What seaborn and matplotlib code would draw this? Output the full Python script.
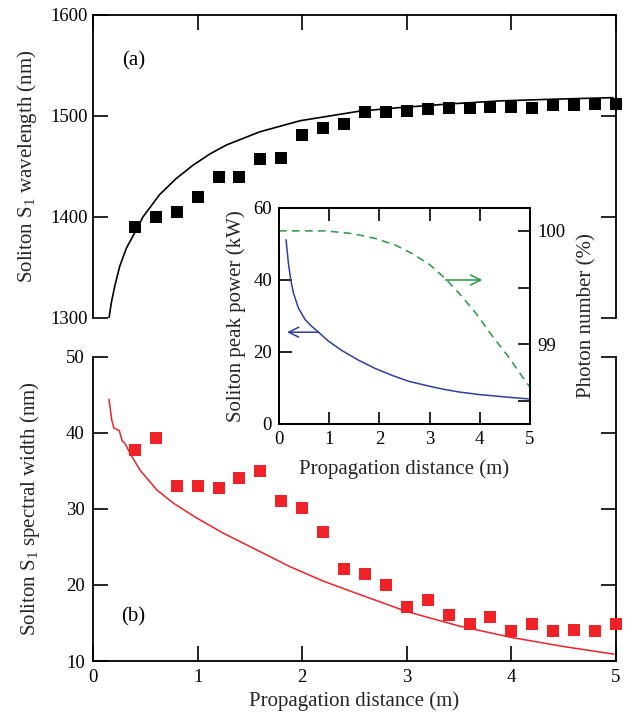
import numpy as np
import pandas as pd
import matplotlib
matplotlib.use("Agg")
import matplotlib.pyplot as plt
import seaborn as sns

# ---- measured points (soliton S1) ----
dist_meas = [0.4, 0.6, 0.8, 1.0, 1.2, 1.4, 1.6, 1.8, 2.0, 2.2, 2.4, 2.6,
             2.8, 3.0, 3.2, 3.4, 3.6, 3.8, 4.0, 4.2, 4.4, 4.6, 4.8, 5.0]
wavelength_meas = [1390, 1400, 1405, 1420, 1439, 1439, 1457, 1458, 1481, 1488,
                   1492, 1504, 1504, 1505, 1506.3, 1507.3, 1507.3, 1508.3,
                   1508.3, 1508, 1510.6, 1510.6, 1511.6, 1511.3]
width_meas = [37.7, 39.3, 33.0, 33.0, 32.7, 34.1, 35.0, 31.0, 30.1, 26.9,
              22.1, 21.5, 20.0, 17.1, 18.0, 16.0, 14.9, 15.8, 14.0, 14.9,
              14.0, 14.1, 14.0, 14.8]

# ---- simulated curves ----
dist_wl_sim = [0.153, 0.175, 0.207, 0.255, 0.319, 0.398, 0.478, 0.637, 0.797,
               0.956, 1.115, 1.275, 1.593, 1.98, 2.55, 2.935, 3.41, 3.89,
               4.37, 4.97]
wavelength_sim = [1300, 1315, 1331, 1351, 1369, 1384, 1400, 1422, 1438,
                  1451, 1462, 1471, 1484, 1495, 1504.5, 1508, 1511.6, 1514.6,
                  1516.2, 1517.8]

dist_w_sim = [0.153, 0.179, 0.20, 0.251, 0.280, 0.306, 0.354, 0.449, 0.609,
              0.768, 0.991, 1.246, 1.565, 1.883, 2.202, 2.457, 3.0, 3.5, 4.0,
              4.5, 4.98]
width_sim = [44.4, 41.7, 40.6, 40.3, 38.9, 38.6, 37.3, 35.1, 32.5,
             30.75, 28.8, 26.8, 24.6, 22.4, 20.5, 19.2, 16.5, 14.6, 13.1,
             11.9, 10.9]

# ---- inset: peak power and photon number ----
dist_power = [0.14, 0.187, 0.233, 0.287, 0.387, 0.52, 0.653, 0.787, 0.987,
              1.253, 1.587, 1.92, 2.253, 2.587, 3.007, 3.253, 3.587, 4.007,
              4.587, 5.0]
peak_power = [51.2, 44.7, 40.1, 36.4, 32.2, 29.0, 27.1, 25.5, 23.0,
              20.4, 17.7, 15.4, 13.5, 11.85, 10.46, 9.72, 8.89, 8.15,
              7.41, 6.94]

dist_photon = [0.0, 0.92, 1.453, 1.92, 2.32, 2.653, 3.007, 3.32, 3.587,
               3.92, 4.253, 4.587, 4.853, 5.0]
photon_number = [100.0, 100.0, 99.977, 99.933, 99.874, 99.80, 99.70, 99.576,
                 99.45, 99.275, 99.07, 98.88, 98.71, 98.62]

BLACK = "#000000"
RED = "#ee2227"
BLUE = "#2e3f9e"
GREEN = "#27993f"

sns.set_style("ticks")
plt.rcParams["font.family"] = ["Liberation Serif", "DejaVu Serif"]
plt.rcParams["mathtext.fontset"] = "custom"
plt.rcParams["mathtext.rm"] = "Liberation Serif"
plt.rcParams["axes.edgecolor"] = "black"
plt.rcParams["axes.linewidth"] = 1.3
plt.rcParams["xtick.color"] = "black"
plt.rcParams["ytick.color"] = "black"
plt.rcParams["text.color"] = "black"

FS_LABEL = 15
FS_TICK = 13.5

fig = plt.figure(figsize=(6.33, 7.21), dpi=100)
W, H = 633, 721


def box(left, top, right, bottom):
    return [left / W, 1 - bottom / H, (right - left) / W, (bottom - top) / H]


ax_top = fig.add_axes(box(93, 14.5, 616, 318))
ax_bot = fig.add_axes(box(93, 356.7, 616, 661))
ax_in = fig.add_axes(box(279, 208, 530, 424))

# ---- panel (a): wavelength ----
df_wl = pd.DataFrame({"d": dist_meas, "v": wavelength_meas})
df_wl_sim = pd.DataFrame({"d": dist_wl_sim, "v": wavelength_sim})
sns.lineplot(data=df_wl_sim, x="d", y="v", ax=ax_top, color=BLACK, lw=1.2,
             sort=False, estimator=None)
sns.scatterplot(data=df_wl, x="d", y="v", ax=ax_top, color=BLACK, marker="s",
                s=85, linewidth=0, zorder=3)
ax_top.collections[-1].set_clip_on(False)
ax_top.set_xlim(0, 5)
ax_top.set_ylim(1300, 1600)
ax_top.set_yticks([1300, 1400, 1500, 1600])
ax_top.set_xticks([0, 1, 2, 3, 4, 5])
ax_top.spines["bottom"].set_visible(False)
ax_top.tick_params(axis="both", direction="in", length=11, width=1.2,
                   labelsize=FS_TICK, top=True, right=True, bottom=False,
                   labelbottom=False)
ax_top.set_xlabel("")
ax_top.set_ylabel(r"Soliton $\mathregular{S_1}$ wavelength (nm)", fontsize=FS_LABEL)
ax_top.yaxis.set_label_coords(-0.104, 0.5)
ax_top.text(0.39, 1554, "(a)", fontsize=FS_LABEL, ha="center", va="center")

# ---- panel (b): spectral width ----
df_w = pd.DataFrame({"d": dist_meas, "v": width_meas})
df_w_sim = pd.DataFrame({"d": dist_w_sim, "v": width_sim})
sns.lineplot(data=df_w_sim, x="d", y="v", ax=ax_bot, color=RED, lw=1.1,
             sort=False, estimator=None)
sns.scatterplot(data=df_w, x="d", y="v", ax=ax_bot, color=RED, marker="s",
                s=85, linewidth=0, zorder=3)
ax_bot.collections[-1].set_clip_on(False)
ax_bot.set_xlim(0, 5)
ax_bot.set_ylim(10, 50)
ax_bot.set_yticks([10, 20, 30, 40, 50])
ax_bot.set_xticks([0, 1, 2, 3, 4, 5])
ax_bot.spines["top"].set_visible(False)
ax_bot.tick_params(axis="both", direction="in", length=11, width=1.2,
                   labelsize=FS_TICK, top=False, right=True, pad=6)
ax_bot.set_xlabel("Propagation distance (m)", fontsize=FS_LABEL)
ax_bot.xaxis.set_label_coords(0.5, -0.1)
ax_bot.set_ylabel(r"Soliton $\mathregular{S_1}$ spectral width (nm)", fontsize=FS_LABEL)
ax_bot.yaxis.set_label_coords(-0.097, 0.5)
ax_bot.text(0.38, 15.8, "(b)", fontsize=FS_LABEL, ha="center", va="center")

# ---- inset: peak power (left) and photon number (right) ----
ax_in.set_facecolor("white")
df_p = pd.DataFrame({"d": dist_power, "v": peak_power})
sns.lineplot(data=df_p, x="d", y="v", ax=ax_in, color=BLUE, lw=1.1,
             sort=False, estimator=None)
ax_in.set_xlim(0, 5)
ax_in.set_ylim(0, 60)
ax_in.set_yticks([0, 20, 40, 60])
ax_in.set_xticks([0, 1, 2, 3, 4, 5])
ax_in.tick_params(axis="both", direction="in", length=9, width=1.2,
                  labelsize=FS_TICK, top=True, right=False, pad=5)
ax_in.set_xlabel("Propagation distance (m)", fontsize=FS_LABEL)
ax_in.xaxis.set_label_coords(0.5, -0.165)
ax_in.set_ylabel("Soliton peak power (kW)", fontsize=FS_LABEL)
ax_in.yaxis.set_label_coords(-0.13, 0.5)

ax_in2 = ax_in.twinx()
df_n = pd.DataFrame({"d": dist_photon, "v": photon_number})
sns.lineplot(data=df_n, x="d", y="v", ax=ax_in2, color=GREEN, lw=1.1,
             sort=False, estimator=None, linestyle=(0, (5, 3.5)))
ax_in2.set_ylim(98.296, 100.202)
ax_in2.set_yticks([98.5, 99, 99.5, 100])
ax_in2.set_yticklabels(["", "99", "", "100"])
ax_in2.tick_params(axis="y", direction="in", length=9, width=1.2,
                   labelsize=FS_TICK, pad=5)
ax_in2.set_ylabel("Photon number (%)", fontsize=FS_LABEL, rotation=90)
ax_in2.yaxis.set_label_coords(1.19, 0.5)
ax_in2.set_xlabel("")

ax_in.annotate("", xy=(0.16, 25.5), xytext=(0.79, 25.5),
               arrowprops=dict(arrowstyle="->", color=BLUE, lw=1.1,
                               mutation_scale=18, shrinkA=0, shrinkB=0))
ax_in.annotate("", xy=(4.05, 40), xytext=(3.32, 40),
               arrowprops=dict(arrowstyle="->", color=GREEN, lw=1.1,
                               mutation_scale=18, shrinkA=0, shrinkB=0))

fig.savefig("out.png", dpi=100)
